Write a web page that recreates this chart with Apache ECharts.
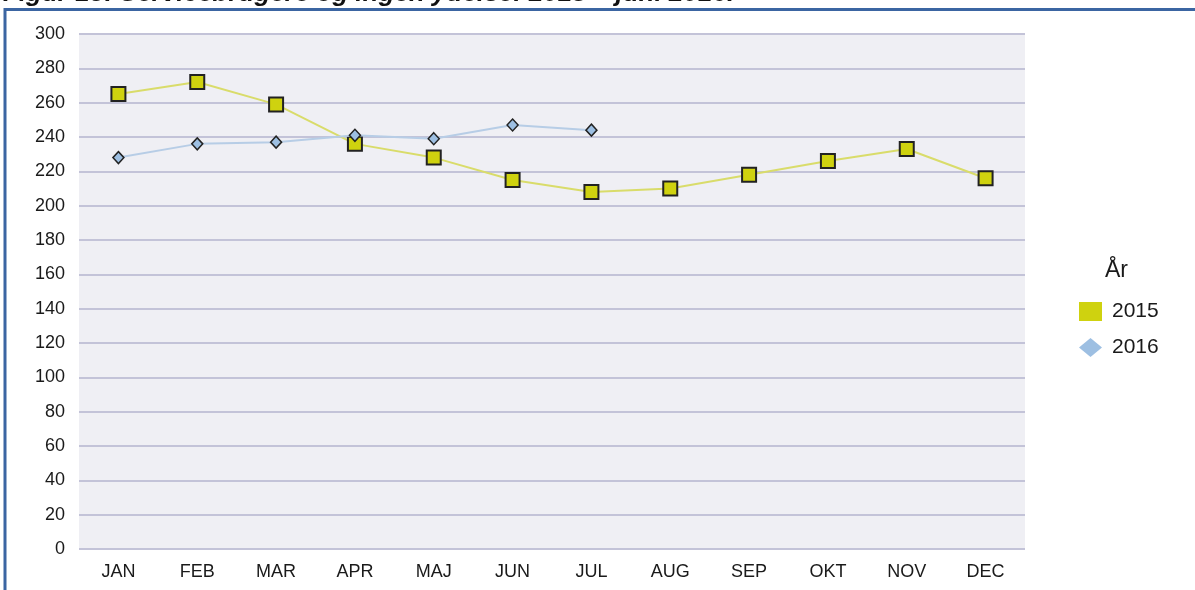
<!DOCTYPE html>
<html>
<head>
<meta charset="utf-8">
<script src="https://cdn.jsdelivr.net/npm/echarts@6/dist/echarts.min.js"></script>
<style>
  html, body { margin: 0; padding: 0; background: #fff; }
  #chart { width: 1195px; height: 590px; }
</style>
</head>
<body>
<div id="chart"></div>
<script>
// maaneder
const months = ['JAN', 'FEB', 'MAR', 'APR', 'MAJ', 'JUN', 'JUL', 'AUG', 'SEP', 'OKT', 'NOV', 'DEC']
// servicebrugere 2015
const values2015 = [265, 272, 259, 236, 228, 215, 208, 210, 218, 226, 233, 216]
// 2016 (kun til juli)
const values2016 = [228, 236, 237, 241, 239, 247, 244, null, null, null, null, null]
const seriesNames = ['2015', '2016']

const chart = echarts.init(document.getElementById('chart'))

const option = {
  animation: false,
  textStyle: { fontFamily: 'Liberation Sans, Arial, sans-serif' },
  graphic: [
    // afskaaret overskrift
    {
      type: 'text',
      x: 3,
      y: 7,
      style: {
        text: 'Figur 13: Servicebrugere og ingen ydelse: 2015 \u2013 juni 2016.',
        font: 'italic bold 26px Liberation Sans, Arial, sans-serif',
        fill: '#111',
        verticalAlign: 'bottom'
      }
    },
    // ramme
    {
      type: 'line',
      shape: { x1: 4, y1: 9.5, x2: 1195, y2: 9.5 },
      style: { stroke: '#3b65a2', lineWidth: 3 }
    },
    {
      type: 'line',
      shape: { x1: 5, y1: 8, x2: 5, y2: 590 },
      style: { stroke: '#3b65a2', lineWidth: 3 }
    }
  ],
  legend: {
    left: 1074,
    top: 296,
    orient: 'vertical',
    itemWidth: 23,
    itemHeight: 19,
    itemGap: 15,
    textStyle: { fontSize: 21, color: '#1a1a1a', padding: [0, 0, 0, 5] },
    data: [
      { name: '2015', icon: 'rect', itemStyle: { color: '#cfd20f', borderWidth: 0 } },
      { name: '2016', icon: 'diamond', itemStyle: { color: '#9dbfe2', borderWidth: 0 } }
    ]
  },
  title: {
    text: 'År',
    left: 1100,
    top: 254,
    textStyle: { fontSize: 23, fontWeight: 'normal', color: '#1a1a1a' }
  },
  grid: {
    left: 79,
    right: 170,
    top: 34,
    bottom: 41,
    show: true,
    backgroundColor: '#efeff4',
    borderWidth: 0
  },
  xAxis: {
    type: 'category',
    data: months,
    boundaryGap: true,
    axisLine: { show: false },
    axisTick: { show: false },
    axisLabel: { fontSize: 18, color: '#1a1a1a', margin: 14 }
  },
  yAxis: {
    type: 'value',
    min: 0,
    max: 300,
    interval: 20,
    axisLine: { show: false },
    axisTick: { show: false },
    axisLabel: { fontSize: 18, color: '#1a1a1a', margin: 14 },
    splitLine: { lineStyle: { color: '#c3c3d8', width: 2 } }
  },
  series: [
    {
      name: seriesNames[0],
      type: 'line',
      data: values2015,
      symbol: 'rect',
      symbolSize: 14,
      lineStyle: { color: '#d9dc6a', width: 2 },
      itemStyle: { color: '#cfd20f', borderColor: '#222', borderWidth: 2 },
      z: 3
    },
    {
      name: seriesNames[1],
      type: 'line',
      data: values2016,
      symbol: 'diamond',
      symbolSize: [11, 12],
      lineStyle: { color: '#b7cde6', width: 2 },
      itemStyle: { color: '#9dbfe2', borderColor: '#222', borderWidth: 1.5 },
      z: 4
    }
  ]
}

chart.setOption(option)
</script>
</body>
</html>
